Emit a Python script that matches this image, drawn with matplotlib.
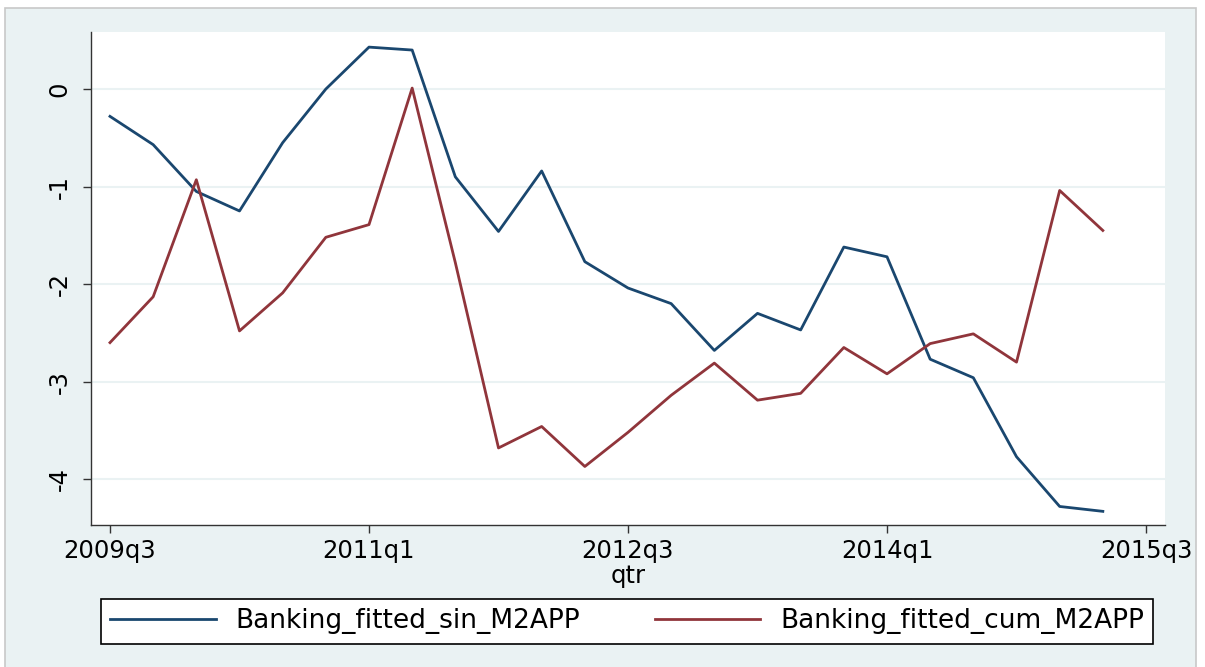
"""Stata-style line chart of fitted banking series."""

import matplotlib
matplotlib.use("Agg")
import matplotlib.pyplot as plt
from matplotlib.patches import Rectangle

plt.rcParams["font.family"] = ["DejaVu Sans"]

# quarters 2009q3 .. 2015q2
quarters = [f"{2009 + (q + 2) // 4}q{(q + 2) % 4 + 1}" for q in range(24)]
sin_m2app = [-0.28, -0.57, -1.05, -1.25, -0.55, 0.0, 0.43, 0.40, -0.90, -1.46,
             -0.84, -1.77, -2.04, -2.20, -2.68, -2.30, -2.47, -1.62, -1.72, -2.77,
             -2.96, -3.77, -4.28, -4.33]
cum_m2app = [-2.60, -2.13, -0.93, -2.48, -2.09, -1.52, -1.39, 0.01, -1.78, -3.68,
             -3.46, -3.87, -3.52, -3.14, -2.81, -3.19, -3.12, -2.65, -2.92, -2.61,
             -2.51, -2.80, -1.04, -1.45]
tick_pos = [0, 6, 12, 18, 24]
tick_labels = ["2009q3", "2011q1", "2012q3", "2014q1", "2015q3"]
series_names = ["Banking_fitted_sin_M2APP", "Banking_fitted_cum_M2APP"]

W, H = 1205, 667
bg = "#EAF2F3"
fig = plt.figure(figsize=(W / 100, H / 100), dpi=100, facecolor="white")
fig.patches.append(Rectangle((5 / W, -0.01), 1191 / W, 659 / H + 0.01,
                             transform=fig.transFigure, facecolor=bg,
                             edgecolor="#C8C8C8", linewidth=1.2, zorder=-10))

ax = fig.add_axes([91 / W, (H - 525) / H, (1165 - 91) / W, (525 - 32) / H], zorder=1)
ax.set_facecolor("white")
x = list(range(len(quarters)))
ax.plot(x, sin_m2app, color="#1A476F", lw=2.0, label=series_names[0])
ax.plot(x, cum_m2app, color="#90353B", lw=2.0, label=series_names[1])

ax.set_xlim(-0.44, 24.44)
ax.set_ylim(-4.47, 0.585)
ax.set_yticks([0, -1, -2, -3, -4])
ax.set_yticklabels(["0", "-1", "-2", "-3", "-4"], rotation=90, va="center")
ax.set_xticks(tick_pos)
ax.set_xticklabels(tick_labels)
ax.grid(axis="y", color=bg, lw=1.5)
ax.set_axisbelow(True)
for s in ("top", "right"):
    ax.spines[s].set_visible(False)
for s in ("left", "bottom"):
    ax.spines[s].set_color("#333333")
    ax.spines[s].set_linewidth(1.0)
ax.tick_params(direction="out", length=6, width=1, color="#333333",
               labelsize=17.5, pad=4)
ax.tick_params(axis="y", pad=8)
ax.set_xlabel("qtr", fontsize=17.5, labelpad=1)

handles, labels = ax.get_legend_handles_labels()
leg = fig.legend(handles, labels, loc="center", ncol=2, mode="expand",
                 bbox_to_anchor=(101 / W, (H - 643) / H, (1153 - 101) / W, 43 / H),
                 fontsize=19, handlelength=4.0, handletextpad=0.75, borderaxespad=0,
                 frameon=True, fancybox=False, borderpad=0.35, framealpha=1)
leg.get_frame().set_edgecolor("black")
leg.get_frame().set_linewidth(1.2)

fig.savefig("out.png", dpi=100, facecolor="white")
